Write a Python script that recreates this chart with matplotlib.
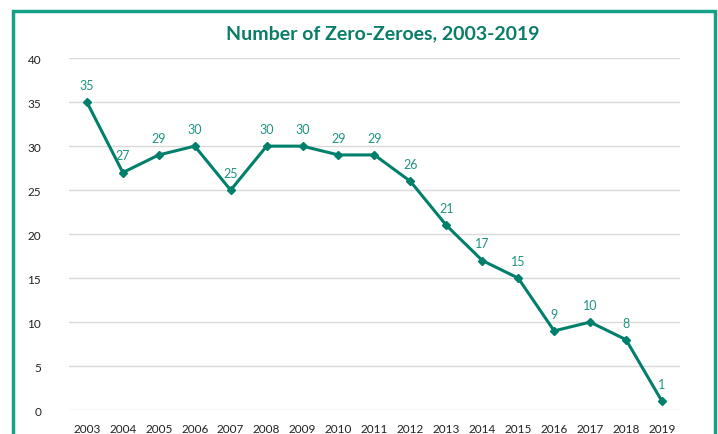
import matplotlib.pyplot as plt
from matplotlib.patches import Rectangle

years = [2003, 2004, 2005, 2006, 2007, 2008, 2009, 2010, 2011,
         2012, 2013, 2014, 2015, 2016, 2017, 2018, 2019]
zero_zeroes = [35, 27, 29, 30, 25, 30, 30, 29, 29, 26, 21, 17, 15, 9, 10, 8, 1]
y_ticks = [0, 5, 10, 15, 20, 25, 30, 35, 40]

line_col = '#00806B'
label_col = '#1E9580'

plt.rcParams['font.family'] = ['Lato', 'DejaVu Sans']

fig = plt.figure(figsize=(7.18, 4.35), dpi=100)
ax = fig.add_axes([0.096, 0.055, 0.851, 0.809])

xpos = list(range(len(years)))
ax.plot(xpos, zero_zeroes, color=line_col, lw=2.2, marker='D', ms=4.5,
        markerfacecolor=line_col, markeredgecolor=line_col)
for x, v in zip(xpos, zero_zeroes):
    ax.annotate(str(v), (x, v), xytext=(0, 8), textcoords='offset points',
                ha='center', va='bottom', fontsize=9, color=label_col)

ax.set_xlim(-0.5, len(years) - 0.5)
ax.set_ylim(0, 40)
ax.set_yticks(y_ticks)
ax.set_xticks(xpos)
ax.set_xticklabels([str(y) for y in years])
ax.tick_params(length=0, labelsize=8.5, colors='#222222')
ax.tick_params(axis='y', pad=20)
ax.tick_params(axis='x', pad=9)
ax.grid(axis='y', color='#D9D9D9', lw=1)
ax.set_axisbelow(True)
for s in ax.spines.values():
    s.set_visible(False)

fig.text(0.533, 0.923, 'Number of Zero-Zeroes, 2003-2019', ha='center',
         va='center', fontsize=14, fontweight='bold', color='#0A7D68')

border = Rectangle((0.018, -0.05), 0.978, 1.022, transform=fig.transFigure,
                   fill=False, edgecolor='#16A085', lw=2.5, clip_on=False)
fig.patches.append(border)

fig.savefig('out.png', dpi=100)
